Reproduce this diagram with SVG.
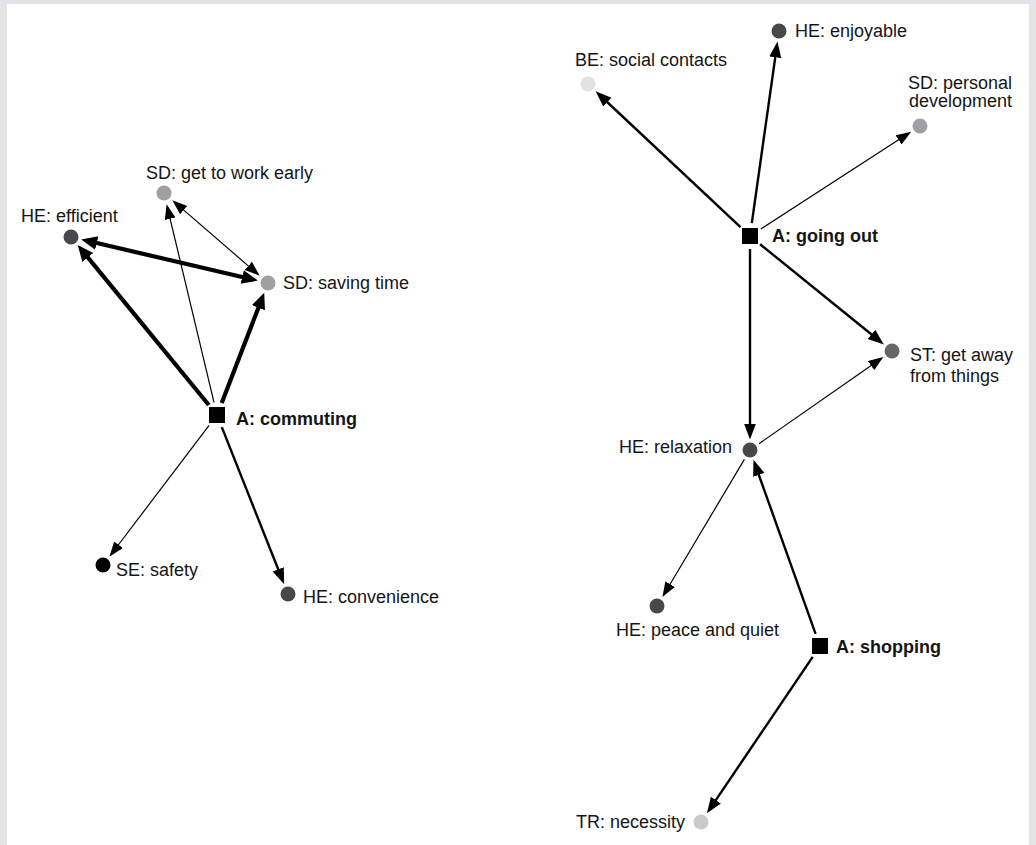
<svg xmlns="http://www.w3.org/2000/svg" width="1036" height="845" viewBox="0 0 1036 845">
  <defs>
    <style>
      text { font-family: "Liberation Sans", Arial, sans-serif; font-size: 18px; fill: #151515; }
      .act { font-weight: bold; }
      .he { fill: #48484a; }
      .sd { fill: #a0a0a2; }
      .se { fill: #000000; }
      .be { fill: #e2e2e4; }
      .st { fill: #666668; }
      .tr { fill: #c9cacc; }
      .sq { fill: #000000; }
      .e { stroke: #000000; fill: none; stroke-linecap: butt; }
      .w1 { stroke-width: 1.2; marker-end: url(#hs); }
      .w2 { stroke-width: 2.4; marker-end: url(#hm); }
      .w4 { stroke-width: 4.2; marker-end: url(#hl); }
      .bi1 { marker-start: url(#hs); }
      .bi4 { marker-start: url(#hl); }
    </style>
    <marker id="hs" markerUnits="userSpaceOnUse" markerWidth="16" markerHeight="12" refX="1" refY="5.5" orient="auto-start-reverse">
      <path d="M0,0 L15,5.5 L0,11 z" fill="#000"/>
    </marker>
    <marker id="hm" markerUnits="userSpaceOnUse" markerWidth="17" markerHeight="13" refX="1" refY="6" orient="auto-start-reverse">
      <path d="M0,0 L16,6 L0,12 z" fill="#000"/>
    </marker>
    <marker id="hl" markerUnits="userSpaceOnUse" markerWidth="18" markerHeight="15" refX="1" refY="7" orient="auto-start-reverse">
      <path d="M0,0 L16,7 L0,14 z" fill="#000"/>
    </marker>
  </defs>

  <!-- frame -->
  <rect x="0" y="0" width="1036" height="845" fill="#e3e4e6"/>
  <rect x="7" y="4" width="1022" height="841" fill="#ffffff"/>

  <g id="connectors">
    <!-- commuting cluster -->
    <line class="e w4" x1="208.8" y1="405" x2="87.2" y2="256.7"/>
    <line class="e w4" x1="221.7" y1="402.9" x2="258.8" y2="306.8"/>
    <line class="e w4 bi4" x1="95.8" y1="242.8" x2="243.2" y2="277.2"/>
    <line class="e w1" x1="214" y1="402.4" x2="169.9" y2="217.8"/>
    <line class="e w1 bi1" x1="182.9" y1="209.4" x2="249.1" y2="266.6"/>
    <line class="e w1" x1="209.1" y1="425.3" x2="117.9" y2="545.5"/>
    <line class="e w2" x1="221.8" y1="427.1" x2="278.6" y2="570.3"/>
    <!-- going out / shopping cluster -->
    <line class="e w2" x1="740.5" y1="227.1" x2="606.6" y2="101.5"/>
    <line class="e w2" x1="751.8" y1="223.1" x2="775.4" y2="56.3"/>
    <line class="e w1" x1="760.9" y1="228.9" x2="899.4" y2="139.3"/>
    <line class="e w2" x1="760.1" y1="244.2" x2="872.2" y2="335"/>
    <line class="e w2" x1="750" y1="249" x2="750" y2="424.5"/>
    <line class="e w1" x1="759" y1="443.7" x2="871.9" y2="365"/>
    <line class="e w1" x1="744.4" y1="459.4" x2="669.6" y2="585"/>
    <line class="e w2" x1="815.6" y1="633.8" x2="758.5" y2="474"/>
    <line class="e w2" x1="812.7" y1="656.8" x2="715.3" y2="800.9"/>
  </g>

  <!-- commuting -->
  <g id="n-commuting">
    <rect class="sq" x="209" y="407" width="16" height="16"/>
    <text class="act" x="236" y="425">A: commuting</text>
  </g>
  <g id="n-efficient">
    <circle class="he" cx="71" cy="237" r="7.5"/>
    <text x="21" y="222">HE: efficient</text>
  </g>
  <g id="n-early">
    <circle class="sd" cx="164" cy="193" r="7.5"/>
    <text x="146" y="179">SD: get to work early</text>
  </g>
  <g id="n-saving">
    <circle class="sd" cx="268" cy="283" r="7.5"/>
    <text x="283" y="289">SD: saving time</text>
  </g>
  <g id="n-safety">
    <circle class="se" cx="103" cy="565" r="7.5"/>
    <text x="116" y="576">SE: safety</text>
  </g>
  <g id="n-convenience">
    <circle class="he" cx="288" cy="594" r="7.5"/>
    <text x="303" y="603">HE: convenience</text>
  </g>

  <!-- going out -->
  <g id="n-goingout">
    <rect class="sq" x="742" y="228" width="16" height="16"/>
    <text class="act" x="772" y="242">A: going out</text>
  </g>
  <g id="n-social">
    <circle class="be" cx="588" cy="84" r="7.5"/>
    <text x="575" y="66">BE: social contacts</text>
  </g>
  <g id="n-enjoyable">
    <circle class="he" cx="779" cy="31" r="7.5"/>
    <text x="795" y="37">HE: enjoyable</text>
  </g>
  <g id="n-personal">
    <circle class="sd" cx="920" cy="126" r="7.5"/>
    <text x="908" y="89">SD: personal</text>
    <text x="909" y="107">development</text>
  </g>
  <g id="n-getaway">
    <circle class="st" cx="892" cy="351" r="7.5"/>
    <text x="910" y="361">ST: get away</text>
    <text x="910" y="382">from things</text>
  </g>
  <g id="n-relaxation">
    <circle class="he" cx="750" cy="450" r="7.5"/>
    <text x="619" y="453">HE: relaxation</text>
  </g>
  <g id="n-peace">
    <circle class="he" cx="657" cy="606" r="7.5"/>
    <text x="616" y="636">HE: peace and quiet</text>
  </g>

  <!-- shopping -->
  <g id="n-shopping">
    <rect class="sq" x="812" y="638" width="16" height="16"/>
    <text class="act" x="836" y="653">A: shopping</text>
  </g>
  <g id="n-necessity">
    <circle class="tr" cx="701" cy="822" r="7.5"/>
    <text x="576" y="828">TR: necessity</text>
  </g>
</svg>
